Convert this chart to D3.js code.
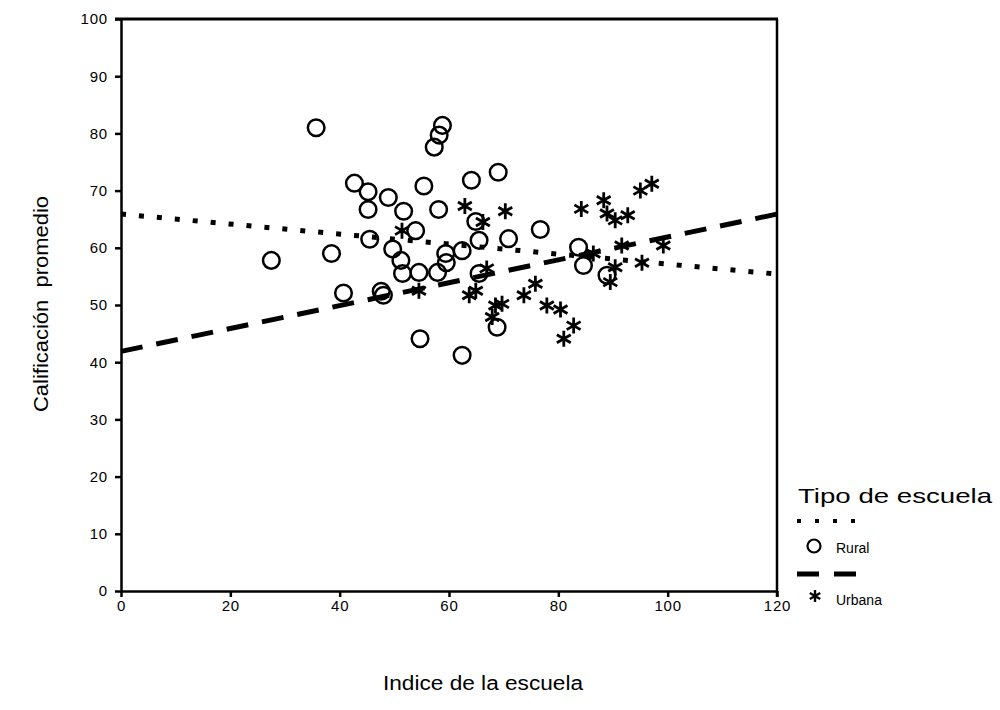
<!DOCTYPE html>
<html><head><meta charset="utf-8">
<script src="https://cdn.jsdelivr.net/npm/d3@7"></script>
<style>body{margin:0;background:#fff}svg{display:block}text{font-family:"Liberation Sans",Arial,sans-serif;fill:#000}</style>
</head><body>
<svg id="chart" width="1000" height="710"></svg>
<script>
const xTicks = [0, 20, 40, 60, 80, 100, 120];
const yTicks = [0, 10, 20, 30, 40, 50, 60, 70, 80, 90, 100];
const ruralX = [27.5,35.7,38.5,40.7,42.7,45.2,45.2,45.5,48.9,49.7,51.2,51.5,48.0,47.6,51.7,53.9,55.4,58.1,57.3,58.2,58.8,64.1,69.0,64.9,65.5,62.4,59.4,59.5,54.5,57.9,65.5,70.9,76.7,83.7,84.6,88.9,68.8,54.7,62.4];
const ruralY = [57.8,81.0,59.0,52.1,71.3,69.8,66.7,61.5,68.8,59.8,57.8,55.5,51.7,52.4,66.4,63.0,70.8,66.7,77.6,79.7,81.4,71.8,73.2,64.6,61.3,59.5,59.0,57.4,55.7,55.7,55.5,61.6,63.2,60.1,56.9,55.2,46.1,44.1,41.2];
const urbanaX = [51.4,62.9,66.2,70.3,66.9,63.7,64.9,68.5,67.9,69.7,73.7,75.8,77.9,80.4,82.8,81.0,84.2,88.3,88.9,90.4,92.7,95.0,97.1,91.6,99.2,95.3,86.4,89.5,90.4,54.5];
const urbanaY = [63.0,67.3,64.5,66.4,56.4,51.7,52.5,49.9,47.9,50.2,51.7,53.7,49.9,49.2,46.4,44.1,66.8,68.3,66.0,64.8,65.7,70.0,71.2,60.4,60.4,57.4,59.0,54.0,56.6,52.5];
const ruralFitX = [0, 120];
const ruralFitY = [65.9, 55.4];
const urbanaFitX = [0, 120];
const urbanaFitY = [41.9, 65.9];
const legendTitle = "Tipo de escuela";
const seriesNames = ["Rural", "Urbana"];

const svg = d3.select("#chart");
const x = d3.scaleLinear().domain([0, 120]).range([121, 777]);
const y = d3.scaleLinear().domain([0, 100]).range([591, 19]);

// axes
const gx = svg.append("g").attr("transform", `translate(0,${y(0)})`)
  .call(d3.axisBottom(x).tickValues(xTicks).tickSize(6).tickPadding(3).tickSizeOuter(0));
const gy = svg.append("g").attr("transform", `translate(${x(0)},0)`)
  .call(d3.axisLeft(y).tickValues(yTicks).tickSize(6).tickPadding(7).tickSizeOuter(0));
[gx, gy].forEach(g => {
  g.select(".domain").attr("stroke", "#000").attr("stroke-width", 2.5);
  g.selectAll(".tick line").attr("stroke", "#000").attr("stroke-width", 2.5);
  g.selectAll(".tick text").attr("font-size", 15).attr("letter-spacing", 0.8)
    .attr("font-family", '"Liberation Sans", Arial, sans-serif');
});
// frame top and right
svg.append("line").attr("x1", x(0) - 6).attr("x2", x(120) + 1).attr("y1", y(100)).attr("y2", y(100))
  .attr("stroke", "#000").attr("stroke-width", 2.8);
svg.append("line").attr("x1", x(120)).attr("x2", x(120)).attr("y1", y(100)).attr("y2", y(0) + 6)
  .attr("stroke", "#000").attr("stroke-width", 2.5);

// regression lines
const line = d3.line().x(d => x(d[0])).y(d => y(d[1]));
svg.append("path").datum(ruralFitX.map((v, i) => [v, ruralFitY[i]]))
  .attr("d", line).attr("fill", "none").attr("stroke", "#000").attr("stroke-width", 5)
  .attr("stroke-dasharray", "5 13");
svg.append("path").datum(urbanaFitX.map((v, i) => [v, urbanaFitY[i]]))
  .attr("d", line).attr("fill", "none").attr("stroke", "#000").attr("stroke-width", 5)
  .attr("stroke-dasharray", "22 14");

// markers
const asterisk = r => {
  const t = r / 2, u = t * Math.sqrt(3);
  return `M0,${-r}L0,${r}M${-u},${-t}L${u},${t}M${-u},${t}L${u},${-t}`;
};
svg.append("g").selectAll("circle").data(ruralX.map((v, i) => [v, ruralY[i]])).join("circle")
  .attr("cx", d => x(d[0])).attr("cy", d => y(d[1])).attr("r", 8.3)
  .attr("fill", "none").attr("stroke", "#000").attr("stroke-width", 2.5);
svg.append("g").selectAll("path").data(urbanaX.map((v, i) => [v, urbanaY[i]])).join("path")
  .attr("transform", d => `translate(${x(d[0])},${y(d[1])})`).attr("d", asterisk(8))
  .attr("fill", "none").attr("stroke", "#000").attr("stroke-width", 2.8);

// axis titles
svg.append("text").attr("x", 483).attr("y", 690).attr("text-anchor", "middle")
  .attr("font-size", 20).attr("textLength", 200).attr("lengthAdjust", "spacingAndGlyphs")
  .text("Indice de la escuela");
svg.append("text").attr("transform", "translate(48,304) rotate(-90)").attr("text-anchor", "middle")
  .attr("font-size", 20).attr("textLength", 216).attr("lengthAdjust", "spacingAndGlyphs")
  .attr("xml:space", "preserve").text("Calificación  promedio");

// legend
svg.append("text").attr("x", 798).attr("y", 503).attr("font-size", 21)
  .attr("textLength", 194).attr("lengthAdjust", "spacingAndGlyphs").text(legendTitle);
svg.append("line").attr("x1", 797).attr("x2", 860).attr("y1", 521).attr("y2", 521)
  .attr("stroke", "#000").attr("stroke-width", 4).attr("stroke-dasharray", "4 14");
svg.append("circle").attr("cx", 814).attr("cy", 546).attr("r", 6.5)
  .attr("fill", "none").attr("stroke", "#000").attr("stroke-width", 2.2);
svg.append("text").attr("x", 836).attr("y", 553).attr("font-size", 14).text(seriesNames[0]);
svg.append("line").attr("x1", 797).attr("x2", 857).attr("y1", 574).attr("y2", 574)
  .attr("stroke", "#000").attr("stroke-width", 5).attr("stroke-dasharray", "22 15");
svg.append("path").attr("transform", "translate(815,596)").attr("d", asterisk(6))
  .attr("fill", "none").attr("stroke", "#000").attr("stroke-width", 2.4);
svg.append("text").attr("x", 836).attr("y", 605).attr("font-size", 14).text(seriesNames[1]);
</script>
</body></html>
